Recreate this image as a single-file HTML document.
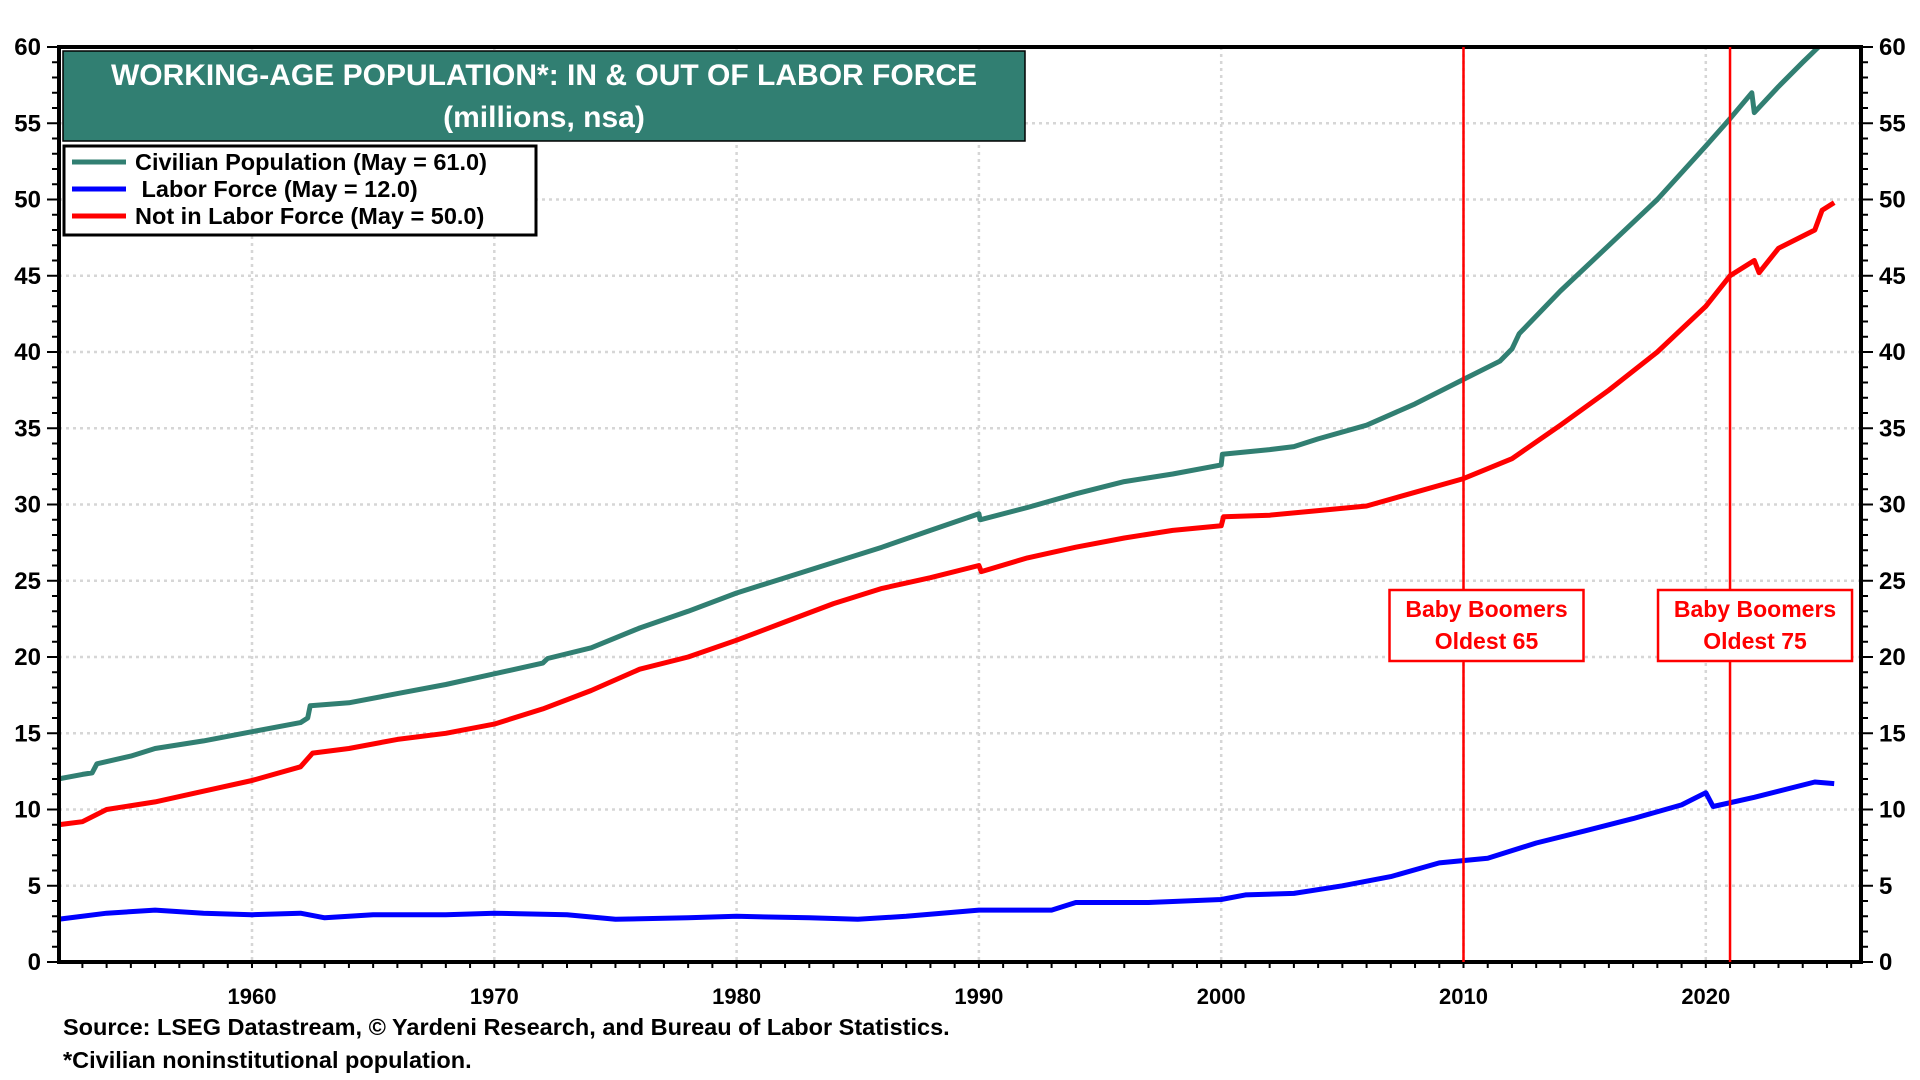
<!DOCTYPE html>
<html><head><meta charset="utf-8"><style>
html,body{margin:0;padding:0;background:#fff;}
svg{display:block;font-family:"Liberation Sans",Arial,sans-serif;font-weight:bold;}
</style></head><body>
<svg id="chart" width="1920" height="1080" viewBox="0 0 1920 1080">
<g id="grid"></g>
<g id="series"></g>
<g id="axes"></g>
<g id="annot"></g>
<g>
<rect x="63" y="51" width="962" height="90" fill="#317f72" stroke="#000" stroke-width="1.5"/>
<text x="544" y="85" text-anchor="middle" fill="#fff" font-size="30">WORKING-AGE POPULATION*: IN &amp; OUT OF LABOR FORCE</text>
<text x="544" y="127" text-anchor="middle" fill="#fff" font-size="30">(millions, nsa)</text>
</g>
<g>
<rect x="64" y="146" width="472" height="89" fill="#fff" stroke="#000" stroke-width="3"/>
<g><line x1="72" y1="162" x2="126" y2="162" stroke="#317f72" stroke-width="5"/><text x="135" y="170" font-size="23.5">Civilian Population (May = 61.0)</text></g>
<g><line x1="72" y1="189" x2="126" y2="189" stroke="#0000ff" stroke-width="5"/><text x="135" y="197" font-size="23.5" xml:space="preserve"> Labor Force (May = 12.0)</text></g>
<g><line x1="72" y1="216" x2="126" y2="216" stroke="#ff0000" stroke-width="5"/><text x="135" y="224" font-size="23.5">Not in Labor Force (May = 50.0)</text></g>
</g>
<text x="63" y="1035" font-size="23.5">Source: LSEG Datastream, © Yardeni Research, and Bureau of Labor Statistics.</text>
<text x="63" y="1068" font-size="23.5">*Civilian noninstitutional population.</text>
</svg>
<script>
const civYears=[1952,1953,1953.4,1953.6,1955,1956,1958,1960,1962,1962.3,1962.4,1964,1966,1968,1970,1972,1972.2,1974,1976,1978,1980,1982,1984,1986,1988,1990,1990.05,1992,1994,1996,1998,2000,2000.05,2002,2003,2004,2006,2008,2010,2011.5,2012,2012.3,2014,2016,2018,2020,2021,2021.9,2022.0,2023,2024,2025.3];
const civValues=[12.0,12.3,12.4,13.0,13.5,14.0,14.5,15.1,15.7,16.0,16.8,17.0,17.6,18.2,18.9,19.6,19.9,20.6,21.9,23.0,24.2,25.2,26.2,27.2,28.3,29.4,29.0,29.8,30.7,31.5,32.0,32.6,33.3,33.6,33.8,34.3,35.2,36.6,38.2,39.4,40.2,41.2,44.0,47.0,50.0,53.5,55.3,57.0,55.7,57.4,59.0,61.0];
const lfYears=[1952,1954,1956,1958,1960,1962,1963,1965,1968,1970,1973,1975,1978,1980,1983,1985,1987,1990,1993,1994,1997,2000,2001,2003,2005,2007,2009,2011,2013,2015,2017,2019,2020,2020.3,2022,2024.5,2025.3];
const lfValues=[2.8,3.2,3.4,3.2,3.1,3.2,2.9,3.1,3.1,3.2,3.1,2.8,2.9,3.0,2.9,2.8,3.0,3.4,3.4,3.9,3.9,4.1,4.4,4.5,5.0,5.6,6.5,6.8,7.8,8.6,9.4,10.3,11.1,10.2,10.8,11.8,11.7];
const nlfYears=[1952,1953,1954,1956,1958,1960,1962,1962.5,1964,1966,1968,1970,1972,1974,1976,1978,1980,1982,1984,1986,1988,1990,1990.1,1992,1994,1996,1998,2000,2000.1,2002,2004,2006,2008,2010,2012,2014,2016,2018,2020,2021,2022,2022.2,2023,2024.5,2024.8,2025.3];
const nlfValues=[9.0,9.2,10.0,10.5,11.2,11.9,12.8,13.7,14.0,14.6,15.0,15.6,16.6,17.8,19.2,20.0,21.1,22.3,23.5,24.5,25.2,26.0,25.6,26.5,27.2,27.8,28.3,28.6,29.2,29.3,29.6,29.9,30.8,31.7,33.0,35.2,37.5,40.0,43.0,45.0,46.0,45.2,46.8,48.0,49.3,49.8];
const yTicks=[0,5,10,15,20,25,30,35,40,45,50,55,60];
const xLabels=[1960,1970,1980,1990,2000,2010,2020];
const markerYears=[2010,2021];
const markerText=[["Baby Boomers","Oldest 65"],["Baby Boomers","Oldest 75"]];

const L=59,R=1861,T=47,B=962;
const X=y=>252+(y-1960)*24.23;
const Y=v=>B-(v/60)*(B-T);
const NS="http://www.w3.org/2000/svg";
function mk(tag,attrs,parent){const e=document.createElementNS(NS,tag);for(const k in attrs)e.setAttribute(k,attrs[k]);parent.appendChild(e);return e;}
const grid=document.getElementById('grid'),axes=document.getElementById('axes'),ser=document.getElementById('series'),ann=document.getElementById('annot');

yTicks.forEach(v=>{if(v>0&&v<60){const g=mk('line',{x1:L,x2:R,y1:Y(v),y2:Y(v),stroke:'#d6d6d6','stroke-width':2.5,'stroke-dasharray':'3 4'},grid);

}
const t1=mk('text',{x:L-18,y:Y(v)+8,'text-anchor':'end','font-size':24},axes);t1.textContent=v;


const t2=mk('text',{x:R+18,y:Y(v)+8,'text-anchor':'start','font-size':24},axes);t2.textContent=v;

});
for(let v=0;v<=60;v++){const len=v%5===0?12:7;
mk('line',{x1:L-len,x2:L,y1:Y(v),y2:Y(v),stroke:'#000','stroke-width':2},axes);
mk('line',{x1:R,x2:R+len,y1:Y(v),y2:Y(v),stroke:'#000','stroke-width':2},axes);}
for(let yr=1953;yr<=2026;yr++){mk('line',{x1:X(yr),x2:X(yr),y1:B,y2:B+6,stroke:'#000','stroke-width':2},axes);}
xLabels.forEach(yr=>{const g=mk('line',{x1:X(yr),x2:X(yr),y1:T,y2:B,stroke:'#d6d6d6','stroke-width':2.5,'stroke-dasharray':'3 4'},grid);


const t=mk('text',{x:X(yr),y:B+42,'text-anchor':'middle','font-size':22},axes);t.textContent=yr;

});
const frame=mk('rect',{x:L,y:T,width:R-L,height:B-T,fill:'none',stroke:'#000','stroke-width':4},axes);



const clip=mk('clipPath',{id:'pc'},document.getElementById('chart'));mk('rect',{x:L,y:T,width:R-L,height:B-T},clip);
function line(xs,vs,color,name){const d=xs.map((x,i)=>(i?'L':'M')+X(x).toFixed(1)+','+Y(vs[i]).toFixed(1)).join(' ');
const p=mk('path',{d:d,fill:'none',stroke:color,'stroke-width':5,'stroke-linejoin':'round','clip-path':'url(#pc)'},ser);

}
line(civYears,civValues,'#317f72','civilian-population-line');
line(nlfYears,nlfValues,'#ff0000','not-in-labor-force-line');
line(lfYears,lfValues,'#0000ff','labor-force-line');

markerYears.forEach((yr,i)=>{const x=X(yr);
const l=mk('line',{x1:x,x2:x,y1:T,y2:B,stroke:'#ff0000','stroke-width':2.5},ann);


const r=mk('rect',{x:x-(i?72:74),y:590,width:194,height:71,fill:'#fff',stroke:'#ff0000','stroke-width':2.5},ann);


markerText[i].forEach((s,j)=>{const t=mk('text',{x:x-(i?72:74)+97,y:617+j*32,'text-anchor':'middle','font-size':23,fill:'#ff0000'},ann);t.textContent=s;

});});
</script>
</body></html>
